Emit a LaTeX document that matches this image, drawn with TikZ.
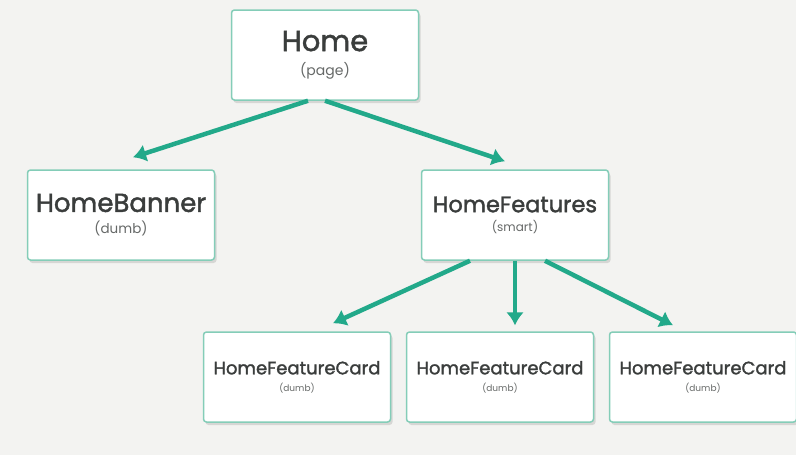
\documentclass[tikz,border=0pt]{standalone}
\usepackage{fontspec}
\setmainfont{Poppins}
\newfontfamily\titlefont{Poppins}[FakeBold=1.6]
\usetikzlibrary{shadows,arrows.meta}
\definecolor{bg}{HTML}{F3F3F1}
\definecolor{boxline}{HTML}{84CDB8}
\definecolor{arrowc}{HTML}{22A98A}
\definecolor{titlec}{HTML}{3A3D3C}
\definecolor{subc}{HTML}{666968}
\tikzset{
  comp/.style={draw=boxline,line width=1.5pt,fill=white,rounded corners=3pt,
    drop shadow={shadow xshift=2pt,shadow yshift=-3pt,opacity=0.25},
    minimum width=187pt,minimum height=90pt,align=center,inner sep=0pt},
  link/.style={draw=arrowc,line width=4.5pt,-{Latex[length=13pt,width=18pt]}}
}
\begin{document}
\begin{tikzpicture}[x=1pt,y=-1pt]
\fill[bg] (0,0) rectangle (796,455);
\useasboundingbox (0,0) rectangle (796,455);

\node[comp] (home) at (325,55) {{\titlefont\fontsize{29}{29}\selectfont\color{titlec}Home}\\[10pt]{\fontsize{14}{14}\selectfont\color{subc}(page)}};
\node[comp] (banner) at (121,215) {{\titlefont\fontsize{26}{26}\selectfont\color{titlec}HomeBanner}\\[8pt]{\fontsize{13.5}{13.5}\selectfont\color{subc}(dumb)}};
\node[comp] (features) at (515,215) {{\titlefont\fontsize{22.5}{22.5}\selectfont\color{titlec}HomeFeatures}\\[7pt]{\fontsize{12}{12}\selectfont\color{subc}(smart)}};

\node[comp] (card1) at (297,377) {{\titlefont\fontsize{18}{18}\selectfont\color{titlec}HomeFeatureCard}\\[5pt]{\fontsize{9}{9}\selectfont\color{subc}(dumb)}};
\node[comp] (card2) at (500,377) {{\titlefont\fontsize{18}{18}\selectfont\color{titlec}HomeFeatureCard}\\[5pt]{\fontsize{9}{9}\selectfont\color{subc}(dumb)}};
\node[comp] (card3) at (703,377) {{\titlefont\fontsize{18}{18}\selectfont\color{titlec}HomeFeatureCard}\\[5pt]{\fontsize{9}{9}\selectfont\color{subc}(dumb)}};

\draw[link] ([xshift=-17pt]home.south) -- ([xshift=12pt,yshift=12pt]banner.north);
\draw[link] ([xshift=0pt]home.south) -- ([xshift=-10pt,yshift=8pt]features.north);

\draw[link] ([xshift=-45pt]features.south) -- ([xshift=36pt,yshift=8pt]card1.north);
\draw[link] ([xshift=0pt]features.south) -- ([xshift=15pt,yshift=6pt]card2.north);
\draw[link] ([xshift=30pt]features.south) -- ([xshift=-30pt,yshift=6pt]card3.north);
\end{tikzpicture}
\end{document}
